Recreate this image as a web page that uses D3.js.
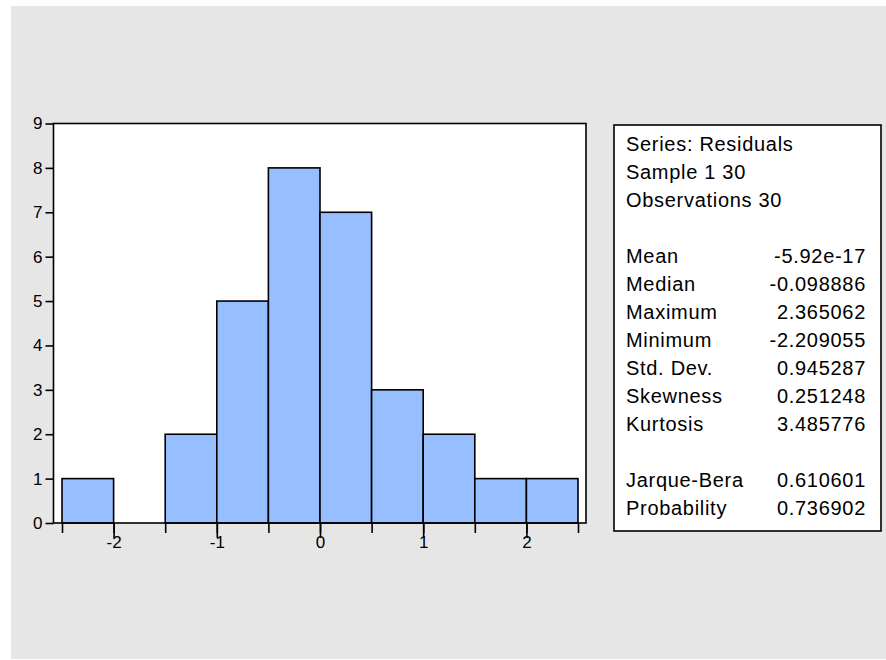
<!DOCTYPE html>
<html>
<head>
<meta charset="utf-8">
<script src="https://cdn.jsdelivr.net/npm/d3@7"></script>
<style>
  html, body { margin: 0; padding: 0; background: #fff; }
  svg { display: block; font-family: "Liberation Sans", Arial, sans-serif; }
</style>
</head>
<body>
<svg width="886" height="660"></svg>
<script>
// Histogram bins (left edges, width 0.5) and counts
const binEdges = [-2.5, -2, -1.5, -1, -0.5, 0, 0.5, 1, 1.5, 2];
const binWidth = 0.5;
const counts = [1, 0, 2, 5, 8, 7, 3, 2, 1, 1];

const yTicks = [0, 1, 2, 3, 4, 5, 6, 7, 8, 9];
const xMinorTicks = [-2.5, -2, -1.5, -1, -0.5, 0, 0.5, 1, 1.5, 2, 2.5];
const xMajorTicks = [-2, -1, 0, 1, 2];

// Summary statistics box
const statHeader = ["Series: Residuals", "Sample 1 30", "Observations 30"];
const statNames = ["Mean", "Median", "Maximum", "Minimum", "Std. Dev.", "Skewness", "Kurtosis"];
const statValues = ["-5.92e-17", "-0.098886", "2.365062", "-2.209055", "0.945287", "0.251248", "3.485776"];
const testNames = ["Jarque-Bera", "Probability"];
const testValues = ["0.610601", "0.736902"];

const svg = d3.select("svg");

// grey panel behind everything
svg.append("rect")
    .attr("x", 11).attr("y", 6)
    .attr("width", 875).attr("height", 653)
    .attr("fill", "#e6e6e6");

const frame = {left: 53.5, right: 586, top: 123.5, bottom: 523};

const xScale = d3.scaleLinear().domain([-2.5, 2.5]).range([62, 578]);
const yScale = d3.scaleLinear().domain([0, 9]).range([frame.bottom, frame.top]);

// plain hyphen for negatives, as in the original
const intFmt = d => String(d);

// plot area
svg.append("rect")
    .attr("x", frame.left).attr("y", frame.top)
    .attr("width", frame.right - frame.left)
    .attr("height", frame.bottom - frame.top)
    .attr("fill", "#fff");

// bars
svg.append("g")
    .selectAll("rect")
    .data(counts.map((c, i) => ({x0: binEdges[i], count: c})).filter(d => d.count > 0))
    .enter()
    .append("rect")
    .attr("x", d => xScale(d.x0))
    .attr("y", d => yScale(d.count))
    .attr("width", d => xScale(d.x0 + binWidth) - xScale(d.x0))
    .attr("height", d => yScale(0) - yScale(d.count))
    .attr("fill", "#97bfff")
    .attr("stroke", "#000")
    .attr("stroke-width", 1.6);

// frame
svg.append("rect")
    .attr("x", frame.left).attr("y", frame.top)
    .attr("width", frame.right - frame.left)
    .attr("height", frame.bottom - frame.top)
    .attr("fill", "none")
    .attr("stroke", "#000")
    .attr("stroke-width", 1.6);

// y axis
const gy = svg.append("g")
    .attr("transform", `translate(${frame.left},0)`)
    .call(d3.axisLeft(yScale).tickValues(yTicks).tickSize(8).tickPadding(3).tickFormat(intFmt));
gy.select(".domain").remove();
gy.selectAll(".tick line").attr("stroke", "#000").attr("stroke-width", 1.6);
gy.selectAll(".tick text")
    .attr("fill", "#000")
    .attr("font-size", 17)
    .attr("font-family", "'Liberation Sans', Arial, sans-serif");

// x axis: minor ticks at every bin edge, labelled ticks at integers
const gxMinor = svg.append("g")
    .attr("transform", `translate(0,${frame.bottom})`)
    .call(d3.axisBottom(xScale).tickValues(xMinorTicks).tickSize(10).tickFormat(""));
gxMinor.select(".domain").remove();
gxMinor.selectAll(".tick line").attr("stroke", "#000").attr("stroke-width", 1.6);

const gx = svg.append("g")
    .attr("transform", `translate(0,${frame.bottom})`)
    .call(d3.axisBottom(xScale).tickValues(xMajorTicks).tickSize(15).tickPadding(-2).tickFormat(intFmt));
gx.select(".domain").remove();
gx.selectAll(".tick line").attr("stroke", "#000").attr("stroke-width", 1.6);
gx.selectAll(".tick text")
    .attr("fill", "#000")
    .attr("font-size", 17)
    .attr("font-family", "'Liberation Sans', Arial, sans-serif");

// stats box
const box = {left: 614, top: 125, right: 881, bottom: 531};
svg.append("rect")
    .attr("x", box.left).attr("y", box.top)
    .attr("width", box.right - box.left)
    .attr("height", box.bottom - box.top)
    .attr("fill", "#fff")
    .attr("stroke", "#000")
    .attr("stroke-width", 1.6);

const lineH = 28;
const firstBase = 151;
const labelX = 626;
const valueX = 866;

const rows = [];
statHeader.forEach((t, i) => rows.push({row: i, label: t, value: ""}));
statNames.forEach((t, i) => rows.push({row: 4 + i, label: t, value: statValues[i]}));
testNames.forEach((t, i) => rows.push({row: 12 + i, label: t, value: testValues[i]}));

const statText = svg.append("g")
    .style("font-size", "20px")
    .style("letter-spacing", "0.7px")
    .attr("fill", "#000");

statText.selectAll("text.label")
    .data(rows)
    .enter()
    .append("text")
    .attr("class", "label")
    .attr("x", labelX)
    .attr("y", d => firstBase + d.row * lineH)
    .text(d => d.label);

statText.selectAll("text.value")
    .data(rows.filter(d => d.value))
    .enter()
    .append("text")
    .attr("class", "value")
    .attr("x", valueX)
    .attr("y", d => firstBase + d.row * lineH)
    .attr("text-anchor", "end")
    .text(d => d.value);
</script>
</body>
</html>
